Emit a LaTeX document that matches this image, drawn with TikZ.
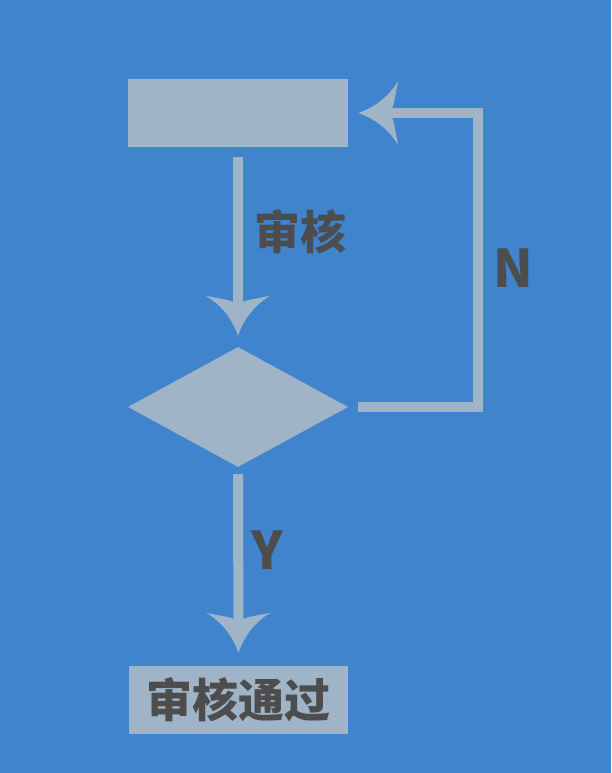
\documentclass[tikz,border=0pt]{standalone}
\usepackage{fontspec}
\newfontfamily\cjk{Noto Sans CJK SC}
\usetikzlibrary{shapes.geometric,arrows.meta}
\definecolor{bgblue}{HTML}{4084CE}
\definecolor{boxfill}{HTML}{A0B4C8}
\definecolor{txtgray}{HTML}{4D4D4D}
\pgfdeclarearrow{
  name = Swept,
  setup code = {
    \pgfarrowssettipend{0pt}
    \pgfarrowssetlineend{-30pt}
    \pgfarrowssetbackend{-40pt}
    \pgfarrowsupperhullpoint{-40pt}{32pt}
    \pgfarrowsupperhullpoint{0pt}{0pt}
  },
  drawing code = {
    \pgfpathmoveto{\pgfqpoint{0pt}{0pt}}
    \pgfpathcurveto{\pgfqpoint{-20pt}{7pt}}{\pgfqpoint{-32pt}{19pt}}{\pgfqpoint{-40pt}{32pt}}
    \pgfpathcurveto{\pgfqpoint{-37pt}{18pt}}{\pgfqpoint{-36pt}{9pt}}{\pgfqpoint{-34pt}{5pt}}
    \pgfpathlineto{\pgfqpoint{-34pt}{-5pt}}
    \pgfpathcurveto{\pgfqpoint{-36pt}{-9pt}}{\pgfqpoint{-37pt}{-18pt}}{\pgfqpoint{-40pt}{-32pt}}
    \pgfpathcurveto{\pgfqpoint{-32pt}{-19pt}}{\pgfqpoint{-20pt}{-7pt}}{\pgfqpoint{0pt}{0pt}}
    \pgfpathclose
    \pgfusepathqfill
  }
}
\tikzset{
  boxnode/.style={draw=none, fill=boxfill, inner sep=0pt, minimum width=220pt, minimum height=68pt},
  decision/.style={diamond, draw=none, fill=boxfill, inner sep=0pt, minimum width=220pt, minimum height=120pt, aspect=1.8333},
  conn/.style={draw=boxfill, line width=10pt, -{Swept}},
  lbl/.style={text=txtgray, font=\cjk\bfseries\fontsize{46}{50}\selectfont, inner sep=0pt},
  lbllatin/.style={text=txtgray, font=\cjk\bfseries\fontsize{52}{56}\selectfont, inner sep=0pt}
}
\begin{document}
\begin{tikzpicture}[x=1pt,y=-1pt]
\fill[bgblue] (0,0) rectangle (611,773);
\useasboundingbox (0,0) rectangle (611,773);
\node[boxnode] (top) at (238,113) {};
\node[decision] (d) at (238,407) {};
\node[boxnode, minimum width=219pt] (pass) at (238.5,700) {};
\node[lbl] (passtxt) at (pass.center) {审核通过};
\draw[conn] ([yshift=-10pt]top.south) -- ([yshift=11pt]d.north);
\draw[conn] ([yshift=-7pt]d.south) -- ([yshift=13pt]pass.north);
\coordinate (corner) at (478,113);
\draw[conn] ([xshift=10pt]d.east) -| (corner) -- ([xshift=10pt]top.east);
\node[lbl] (shenhe) at (300,232) {审核};
\node[lbllatin] (nlbl) at (513,268) {N};
\node[lbllatin] (ylbl) at (267,550) {Y};
\end{tikzpicture}
\end{document}
